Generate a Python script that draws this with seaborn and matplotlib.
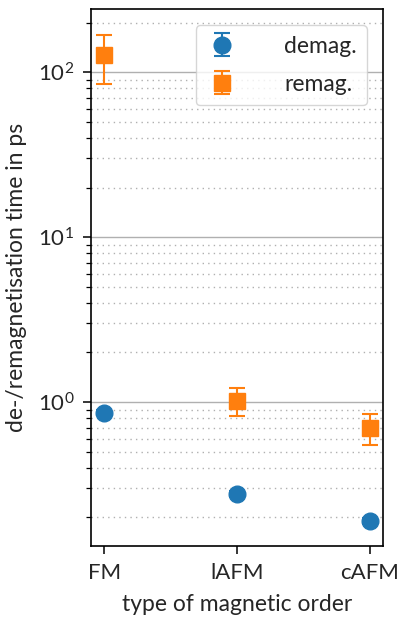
import matplotlib
matplotlib.use("Agg")
import matplotlib.pyplot as plt
import seaborn as sns
import numpy as np
from matplotlib.ticker import LogLocator

# magnetic order types
orders = ["FM", "lAFM", "cAFM"]

# demagnetisation times (ps) and uncertainties
demag = [0.86, 0.277, 0.19]
demag_err = [0.03, 0.012, 0.008]

# remagnetisation times (ps) and uncertainties
remag = [127.0, 1.02, 0.70]
remag_err = [42.0, 0.20, 0.15]

sns.set_theme(style="ticks")
plt.rcParams["font.family"] = ["Lato", "DejaVu Sans"]
plt.rcParams["mathtext.fontset"] = "stix"
plt.rcParams["axes.edgecolor"] = "black"

fig, ax = plt.subplots(figsize=(4.01, 6.19), dpi=100)
fig.subplots_adjust(left=0.227, right=0.955, top=0.985, bottom=0.118)

x = np.arange(len(orders))
ax.errorbar(x, demag, yerr=demag_err, fmt="o", color="#1f77b4", ms=12,
            capsize=6, elinewidth=1.5, capthick=1.5, label="demag.", zorder=3)
ax.errorbar(x, remag, yerr=remag_err, fmt="s", color="#ff7f0e", ms=11.5,
            capsize=6, elinewidth=1.5, capthick=1.5, label="remag.", zorder=3)

ax.set_yscale("log")
ax.set_ylim(0.134, 241)
ax.set_xlim(-0.1, 2.1)
ax.set_xticks(x)
ax.set_xticklabels(orders)
ax.yaxis.set_minor_locator(LogLocator(base=10, subs=np.arange(2, 10)))

ax.grid(True, which="major", axis="y", color="#b0b0b0", lw=1.0)
ax.grid(True, which="minor", axis="y", color="#b0b0b0", lw=1.0, ls=(0, (1, 3)))
ax.set_axisbelow(True)

for s in ax.spines.values():
    s.set_linewidth(1.2)
    s.set_color("black")

ax.tick_params(axis="both", which="major", direction="out", length=6, width=1.1,
               labelsize=16, color="black", pad=6)
ax.tick_params(axis="y", which="minor", direction="out", length=3.5, width=0.9,
               color="black")

ax.set_xlabel("type of magnetic order", fontsize=16.5, labelpad=8)
ax.set_ylabel("de-/remagnetisation time in ps", fontsize=16.5, labelpad=8)

leg = ax.legend(loc="upper right", fontsize=16.5, frameon=True, fancybox=True,
                framealpha=0.8, edgecolor="#cccccc", handlelength=1.4,
                borderpad=0.45, labelspacing=0.75, handletextpad=2.0,
                borderaxespad=0.7)

fig.savefig("out.png", dpi=100)
